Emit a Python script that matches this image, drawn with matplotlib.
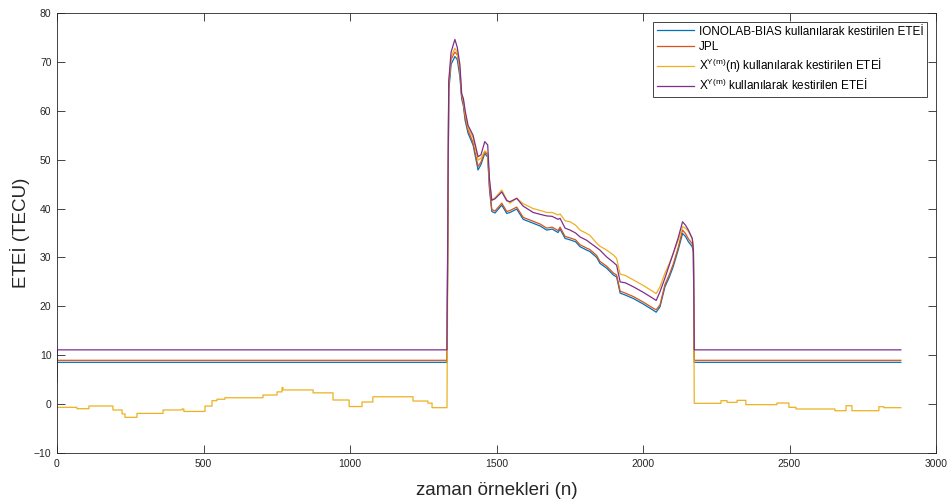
import matplotlib
matplotlib.use("Agg")
import matplotlib.pyplot as plt
import numpy as np

plt.rcParams['font.family'] = ['Liberation Sans', 'DejaVu Sans']

# ---- data ----
labels = ["IONOLAB-BIAS kullanılarak kestirilen ETEİ",
          "JPL",
          r"$\mathregular{X^{Y(m)}}$(n) kullanılarak kestirilen ETEİ",
          r"$\mathregular{X^{Y(m)}}$ kullanılarak kestirilen ETEİ"]
colors = ["#0072BD", "#D95319", "#EDB120", "#7E2F8E"]

# flat (quiet) levels before / after the active interval
x_start, x_quiet_end, x_active_end, x_end = 0, 1331, 2175, 2880
blue_flat, red_flat, purple_flat = 8.55, 8.96, 11.1
blue_first, red_first, purple_first = 4.5, 5.0, 8.5

# active interval keypoints (sample index)
x_act = [1337, 1345, 1358, 1366, 1375, 1381, 1387, 1393, 1403, 1420, 1437, 1447,
         1460, 1470, 1476, 1484, 1495, 1518, 1535, 1546, 1569, 1591, 1625, 1650,
         1671, 1690, 1710, 1717, 1734, 1751, 1770, 1785, 1808, 1819, 1842, 1853,
         1876, 1899, 1910, 1922, 1940, 1967, 2000, 2035, 2045, 2058, 2075, 2090,
         2103, 2120, 2135, 2145, 2155, 2168, 2172]
blue_act = [64.0, 69.5, 71.1, 70.5, 67.0, 62.5, 61.0, 58.0, 55.4, 53.0, 47.9, 49.0,
            51.3, 50.5, 44.0, 39.4, 39.1, 40.7, 39.0, 39.2, 39.9, 37.8, 37.0, 36.4,
            35.6, 35.8, 35.1, 35.8, 33.9, 33.6, 33.2, 32.2, 31.5, 31.2, 30.0, 28.8,
            27.8, 26.4, 26.0, 22.7, 22.3, 21.6, 20.5, 19.2, 18.8, 19.9, 24.0, 26.0,
            28.1, 31.5, 34.9, 34.3, 33.2, 32.2, 31.0]
red_act = [65.0, 70.5, 72.0, 71.5, 68.0, 63.0, 61.5, 58.5, 56.0, 53.5, 48.6, 49.5,
           51.6, 51.0, 44.5, 39.8, 39.5, 41.1, 39.4, 39.6, 40.3, 38.2, 37.4, 36.8,
           36.0, 36.2, 35.5, 36.2, 34.3, 34.0, 33.6, 32.6, 31.9, 31.6, 30.4, 29.2,
           28.2, 26.8, 26.4, 23.1, 22.7, 22.0, 20.9, 19.6, 19.3, 20.3, 24.5, 26.5,
           28.6, 32.0, 35.6, 34.9, 33.8, 32.8, 31.5]
yellow_act = [65.5, 71.0, 72.8, 72.0, 68.5, 63.5, 62.0, 59.5, 56.5, 54.5, 49.9, 50.3,
              51.8, 51.3, 45.5, 41.7, 42.2, 43.8, 41.8, 41.1, 42.1, 41.0, 40.0, 39.6,
              39.2, 39.2, 38.7, 38.9, 37.5, 37.3, 36.6, 35.6, 34.9, 34.5, 32.9, 32.3,
              31.5, 30.5, 29.8, 26.6, 26.3, 25.4, 24.3, 23.0, 22.6, 24.0, 26.8, 28.8,
              30.8, 33.5, 36.3, 36.0, 35.3, 33.9, 32.5]
purple_act = [66.0, 72.0, 74.6, 73.0, 69.5, 63.5, 62.5, 60.0, 57.0, 55.0, 50.6, 51.0,
              53.7, 53.0, 46.0, 41.7, 42.0, 43.4, 41.6, 41.4, 42.1, 40.5, 39.2, 38.8,
              38.5, 38.4, 37.8, 38.0, 36.0, 35.6, 35.0, 34.2, 33.5, 33.0, 32.0, 31.5,
              30.1, 29.0, 28.4, 25.0, 24.8, 24.0, 22.9, 21.6, 21.2, 23.0, 25.8, 28.5,
              30.8, 34.0, 37.3, 36.6, 35.6, 33.9, 31.5]

# yellow quiet-time steps (steps-post): before and after the active interval
yel_pre_x = [0, 68, 109, 191, 222, 232, 273, 362, 427, 433, 505, 529, 546, 573,
             703, 751, 768, 771, 874, 881, 942, 997, 1041, 1078, 1215, 1266, 1280, 1331]
yel_pre_y = [-0.66, -0.94, -0.39, -1.2, -2.0, -2.7, -1.9, -1.2, -1.0, -1.5, -0.4, 0.7,
             1.0, 1.3, 1.86, 2.5, 3.4, 2.9, 2.3, 2.3, 0.84, -0.5, 0.43, 1.5, 0.63,
             0.2, -0.73, -0.73]
yel_post_x = [2175, 2266, 2287, 2321, 2351, 2457, 2498, 2522, 2655, 2693, 2713,
              2805, 2822, 2880]
yel_post_y = [0.16, 0.7, 0.36, 0.77, -0.11, 0.22, -0.66, -1.0, -1.35, -0.33, -1.35,
              -0.53, -0.73, -0.73]

# ---- figure ----
fig = plt.figure(figsize=(9.52, 5.0), dpi=100)
ax = fig.add_axes([57/952, 1-453/500, (936-57)/952, (453-13)/500])

def full_series(first, flat, act):
    xs = [x_start, 1] + [x_quiet_end] + x_act + [x_active_end, x_end]
    ys = [first, flat] + [flat] + act + [flat, flat]
    return xs, ys

def steps(xv, yv):
    sx, sy = [], []
    for i in range(len(xv)):
        sx.append(xv[i]); sy.append(yv[i])
        if i + 1 < len(xv):
            sx.append(xv[i+1]); sy.append(yv[i])
    return sx, sy

lw = 0.9
bx, by = full_series(blue_first, blue_flat, blue_act)
ax.plot(bx, by, color=colors[0], lw=lw, label=labels[0])
rx, ry = full_series(red_first, red_flat, red_act)
ax.plot(rx, ry, color=colors[1], lw=lw, label=labels[1])

pre_sx, pre_sy = steps(yel_pre_x, yel_pre_y)
post_sx, post_sy = steps(yel_post_x, yel_post_y)
yx = pre_sx + x_act + post_sx
yy = pre_sy + yellow_act + post_sy
ax.plot(yx, yy, color=colors[2], lw=lw, label=labels[2])

px_, py_ = full_series(purple_first, purple_flat, purple_act)
ax.plot(px_, py_, color=colors[3], lw=lw, label=labels[3])

ax.set_xlim(0, 3000)
ax.set_ylim(-10, 80)
ax.set_xticks(np.arange(0, 3001, 500))
ax.set_yticks(np.arange(-10, 81, 10))

tick_col = "#262626"
ax.tick_params(direction='in', length=5.8, width=0.6, top=True, right=True,
               labelsize=7.5, colors=tick_col, labelcolor=tick_col, pad=4)
for s in ax.spines.values():
    s.set_linewidth(0.6)
    s.set_color(tick_col)

ax.set_xlabel("zaman örnekleri (n)", fontsize=13.5, color=tick_col, labelpad=10)
ax.set_ylabel("ETEİ (TECU)", fontsize=13.5, color=tick_col, labelpad=3)

leg = ax.legend(loc='upper right', bbox_to_anchor=((927-57)/879, (453-22)/440),
                borderaxespad=0, fontsize=8.45, frameon=True, fancybox=False,
                handlelength=3.2, handletextpad=0.4, labelspacing=0.3,
                borderpad=0.3)
leg.get_frame().set_edgecolor('#262626')
leg.get_frame().set_linewidth(0.6)
leg.get_frame().set_alpha(1)

fig.savefig("out.png", dpi=100)
